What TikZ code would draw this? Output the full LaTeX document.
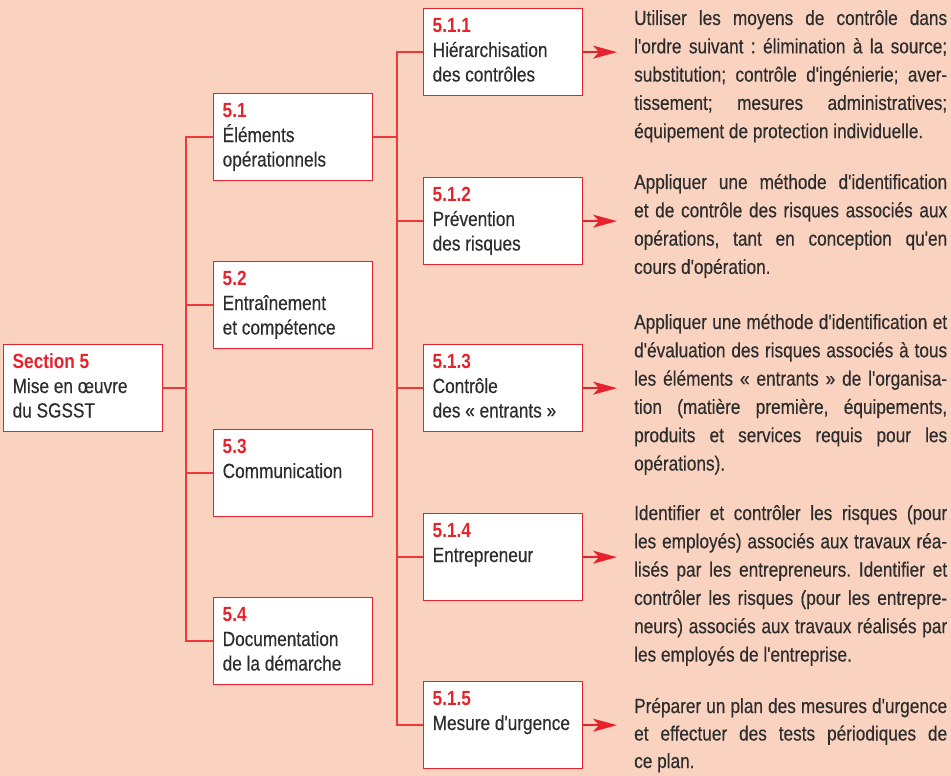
\documentclass[tikz,border=0pt]{standalone}
\usepackage{fontspec}
\setmainfont{Liberation Sans}[FakeStretch=0.84, Ligatures=TeXOff, UprightFeatures={FakeBold=0.35}]
\usetikzlibrary{arrows.meta,calc}
\definecolor{bg}{RGB}{250,211,192}
\definecolor{rd}{RGB}{232,34,44}
\definecolor{ln}{RGB}{236,58,58}
\definecolor{tx}{RGB}{45,45,45}
\newcommand\boxfont{\fontsize{20.5}{24.5}\selectfont}
\newcommand\parfont{\fontsize{20.5}{28.3}\selectfont}
\newcommand\lastparfont{\fontsize{20.5}{27.5}\selectfont}
\newcommand\num[1]{{\color{rd}\bfseries #1}}
\newcommand\btxt[1]{\parbox[t]{148pt}{\raggedright\frenchspacing\leavevmode #1}}
\newcommand\jpar[1]{\parbox[t]{313pt}{\tolerance=10000\hbadness=10000\pretolerance=-1\frenchspacing\leavevmode #1}}
\tikzset{
  boxn/.style={draw=rd, line width=1.3pt, fill=white, minimum width=159pt, minimum height=87pt, inner sep=0pt, anchor=north west},
  lbl/.style={anchor=base west, inner sep=0pt, text=tx, font=\boxfont},
  para/.style={anchor=base west, inner sep=0pt, text=tx, font=\parfont},
  conn/.style={draw=ln, line width=1.5pt},
  arr/.style={draw=rd, line width=1.5pt, -{Stealth[length=24pt, width=13pt, inset=6pt]}}
}
\begin{document}
\begin{tikzpicture}[x=1pt,y=-1pt]
\fill[bg] (0,0) rectangle (951,776);
\useasboundingbox (0,0) rectangle (951,776);

% junction coordinates
\coordinate (v1) at (186,0);
\coordinate (v2) at (397,0);
\coordinate (ax) at (617,0);

% boxes
\node[boxn] (s0) at (3,344) {};
\node[boxn] (b1) at (213,93) {};
\node[boxn] (b2) at (213,261) {};
\node[boxn] (b3) at (213,429) {};
\node[boxn] (b4) at (213,597) {};
\node[boxn] (c1) at (423,8) {};
\node[boxn] (c2) at (423,177) {};
\node[boxn] (c3) at (423,344) {};
\node[boxn] (c4) at (423,513) {};
\node[boxn] (c5) at (423,681) {};

% connectors level 1
\draw[conn] (s0.east) -- (s0.east -| v1);
\draw[conn] (b1.west) -- (v1 |- b1.west) -- (v1 |- b4.west) -- (b4.west);
\draw[conn] (v1 |- b2.west) -- (b2.west);
\draw[conn] (v1 |- b3.west) -- (b3.west);

% connectors level 2
\draw[conn] (b1.east) -- (b1.east -| v2);
\draw[conn] (c1.west) -- (v2 |- c1.west) -- (v2 |- c5.west) -- (c5.west);
\draw[conn] (v2 |- c2.west) -- (c2.west);
\draw[conn] (v2 |- c3.west) -- (c3.west);
\draw[conn] (v2 |- c4.west) -- (c4.west);

% arrows
\draw[arr] (c1.east) -- (c1.east -| ax);
\draw[arr] (c2.east) -- (c2.east -| ax);
\draw[arr] (c3.east) -- (c3.east -| ax);
\draw[arr] (c4.east) -- (c4.east -| ax);
\draw[arr] (c5.east) -- (c5.east -| ax);

% box labels
\node[lbl] (t0) at ($(s0.north west)+(9.5,24.5)$) {\btxt{\num{Section 5}\\Mise en œuvre\\du SGSST}};
\node[lbl] (t1) at ($(b1.north west)+(9.5,24.5)$) {\btxt{\num{5.1}\\Éléments\\opérationnels}};
\node[lbl] (t2) at ($(b2.north west)+(9.5,24.5)$) {\btxt{\num{5.2}\\Entraînement\\et compétence}};
\node[lbl] (t3) at ($(b3.north west)+(9.5,24.5)$) {\btxt{\num{5.3}\\Communication}};
\node[lbl] (t4) at ($(b4.north west)+(9.5,24.5)$) {\btxt{\num{5.4}\\Documentation\\de la démarche}};
\node[lbl] (u1) at ($(c1.north west)+(9.5,24.5)$) {\btxt{\num{5.1.1}\\Hiérarchisation\\des contrôles}};
\node[lbl] (u2) at ($(c2.north west)+(9.5,24.5)$) {\btxt{\num{5.1.2}\\Prévention\\des risques}};
\node[lbl] (u3) at ($(c3.north west)+(9.5,24.5)$) {\btxt{\num{5.1.3}\\Contrôle\\des « entrants »}};
\node[lbl] (u4) at ($(c4.north west)+(9.5,24.5)$) {\btxt{\num{5.1.4}\\Entrepreneur}};
\node[lbl] (u5) at ($(c5.north west)+(9.5,24.5)$) {\btxt{\num{5.1.5}\\Mesure d'urgence}};

% paragraphs
\node[para] (p1) at (634,25) {\jpar{Utiliser les moyens de contrôle dans \linebreak l'ordre suivant : élimination à la source; \linebreak substitution; contrôle d'ingénierie; aver-\linebreak tissement; mesures administratives; \linebreak équipement de protection individuelle.}};
\node[para] (p2) at (634,189) {\jpar{Appliquer une méthode d'identification \linebreak et de contrôle des risques associés aux \linebreak opérations, tant en conception qu'en \linebreak cours d'opération.}};
\node[para] (p3) at (634,329) {\jpar{Appliquer une méthode d'identification et \linebreak d'évaluation des risques associés à tous \linebreak les éléments « entrants » de l'organisa-\linebreak tion (matière première, équipements, \linebreak produits et services requis pour les \linebreak opérations).}};
\node[para] (p4) at (634,520) {\jpar{Identifier et contrôler les risques (pour \linebreak les employés) associés aux travaux réa-\linebreak lisés par les entrepreneurs. Identifier et \linebreak contrôler les risques (pour les entrepre-\linebreak neurs) associés aux travaux réalisés par \linebreak les employés de l'entreprise.}};
\node[para, font=\lastparfont] (p5) at (634,713) {\jpar{Préparer un plan des mesures d'urgence \linebreak et effectuer des tests périodiques de \linebreak ce plan.}};
\end{tikzpicture}
\end{document}
